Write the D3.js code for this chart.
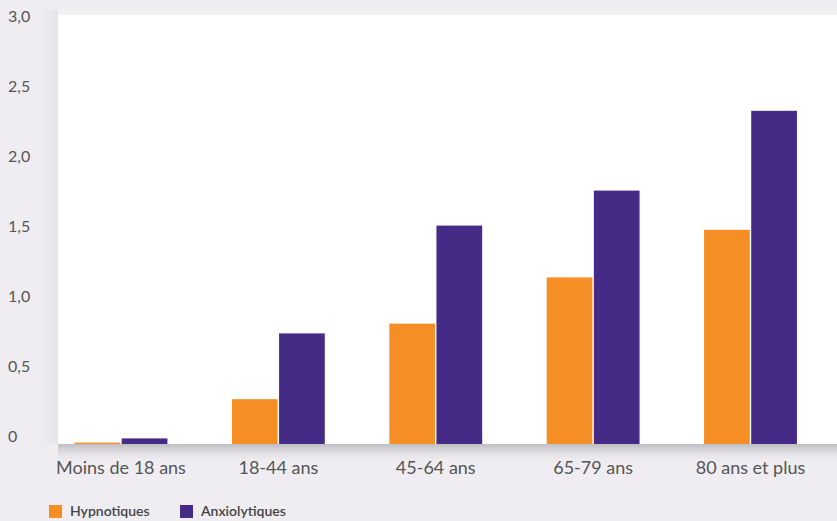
<!DOCTYPE html>
<html><head><meta charset="utf-8">
<script src="https://cdn.jsdelivr.net/npm/d3@7"></script>
<style>body{margin:0;background:#efedf2;}svg{display:block;}</style>
</head><body>
<svg id="c" width="837" height="521"></svg>
<script>
const categories = ["Moins de 18 ans", "18-44 ans", "45-64 ans", "65-79 ans", "80 ans et plus"];
const seriesNames = ["Hypnotiques", "Anxiolytiques"];
const hypnotiques = [0.01, 0.32, 0.86, 1.19, 1.53];
const anxiolytiques = [0.04, 0.79, 1.56, 1.81, 2.38];
const yTicks = [0, 0.5, 1.0, 1.5, 2.0, 2.5, 3.0];
const yTickLabels = ["0", "0,5", "1,0", "1,5", "2,0", "2,5", "3,0"];
const colors = ["#f68e26", "#452a86"];

const svg = d3.select("#c");
const W = 837, H = 521;
const baseY = 444, topY = 24;
const y = d3.scaleLinear().domain([0, 3]).range([baseY, topY]);
const x0 = d3.scaleBand().domain(categories).range([42.3, 829.2]).paddingInner(0.41).paddingOuter(0.205);
const x1 = d3.scaleBand().domain(seriesNames).range([0, x0.bandwidth()]).paddingInner(0.03);

const defs = svg.append("defs");
const g1 = defs.append("linearGradient").attr("id","shadow").attr("x1",0).attr("y1",0).attr("x2",0).attr("y2",1);
g1.append("stop").attr("offset","0%").attr("stop-color","#bdbcc1");
g1.append("stop").attr("offset","100%").attr("stop-color","#efedf2").attr("stop-opacity",0);
const g2 = defs.append("linearGradient").attr("id","leftedge").attr("x1",0).attr("y1",0).attr("x2",1).attr("y2",0);
g2.append("stop").attr("offset","0%").attr("stop-color","#efedf2");
g2.append("stop").attr("offset","100%").attr("stop-color","#e6e4ea");

svg.append("rect").attr("x",0).attr("y",0).attr("width",W).attr("height",H).attr("fill","#efedf2");
svg.append("rect").attr("x",40).attr("y",10).attr("width",18).attr("height",baseY-10).attr("fill","url(#leftedge)");
svg.append("rect").attr("x",58).attr("y",10).attr("width",W-58).attr("height",6).attr("fill","#f3f1f4");
svg.append("rect").attr("x",58).attr("y",15).attr("width",W-58).attr("height",baseY-15).attr("fill","#ffffff");
svg.append("rect").attr("x",58).attr("y",baseY).attr("width",W-58).attr("height",20).attr("fill","url(#shadow)");

svg.append("g").selectAll("text").data(yTicks).join("text")
  .attr("x", 8).attr("y", d => y(d) - 6)
  .attr("dominant-baseline","middle")
  .attr("font-family","Lato, 'Open Sans', sans-serif").attr("font-size",16)
  .attr("fill","#555")
  .text((d,i) => yTickLabels[i]);

const grp = svg.append("g").selectAll("g").data(categories).join("g")
  .attr("transform", d => `translate(${x0(d)},0)`);
grp.selectAll("rect").data((d,i) => [
    {s: seriesNames[0], v: hypnotiques[i], c: colors[0]},
    {s: seriesNames[1], v: anxiolytiques[i], c: colors[1]}])
  .join("rect")
  .attr("x", d => x1(d.s)).attr("width", x1.bandwidth())
  .attr("y", d => y(d.v)).attr("height", d => baseY - y(d.v))
  .attr("fill", d => d.c);

svg.append("g").selectAll("text").data(categories).join("text")
  .attr("x", d => x0(d) + x0.bandwidth()/2).attr("y", 469)
  .attr("text-anchor","middle").attr("dominant-baseline","middle")
  .attr("font-family","Lato, 'Open Sans', sans-serif").attr("font-size",18)
  .attr("fill","#555")
  .text(d => d);

const legX = [49, 180];
const leg = svg.append("g").selectAll("g").data(seriesNames).join("g")
  .attr("transform", (d,i) => `translate(${legX[i]},505)`);
leg.append("rect").attr("width",13).attr("height",13).attr("fill",(d,i)=>colors[i]);
leg.append("text").attr("x",21).attr("y",7).attr("dominant-baseline","middle")
  .attr("font-family","Lato, 'Open Sans', sans-serif").attr("font-size",14).attr("font-weight",600)
  .attr("fill","#444").text(d => d);
</script>
</body></html>
